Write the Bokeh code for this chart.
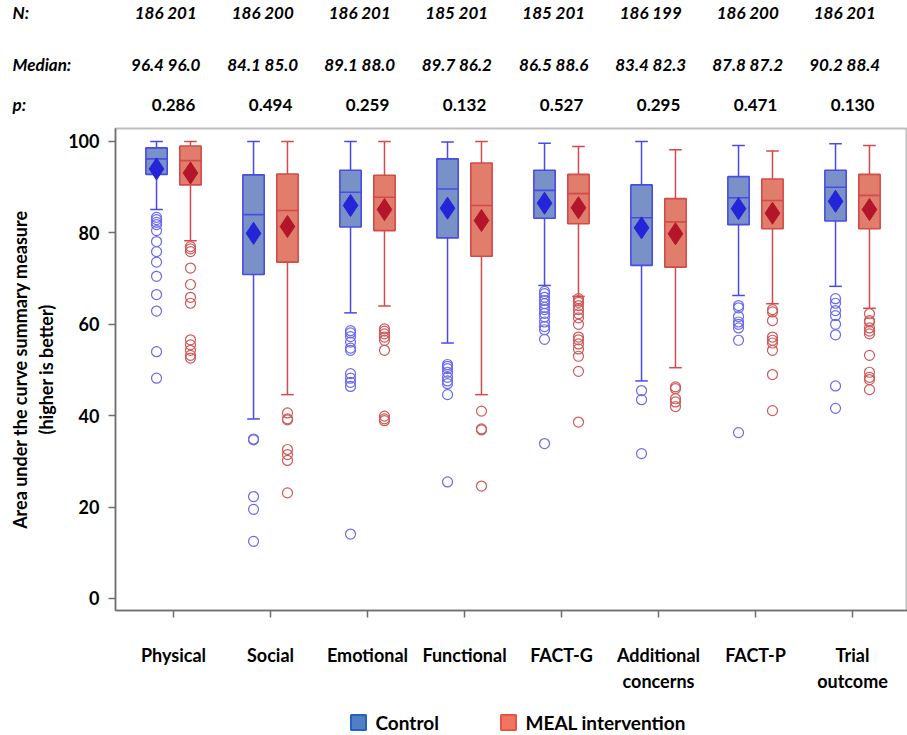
from bokeh.plotting import figure
from bokeh.models import Range1d, FixedTicker, ColumnDataSource
from bokeh.transform import dodge
from bokeh.layouts import column
from bokeh.core.properties import value
from bokeh.embed import file_html
from bokeh.resources import INLINE

# ---------------- data ----------------
categories = ["Physical", "Social", "Emotional", "Functional", "FACT-G",
              "Additional\nconcerns", "FACT-P", "Trial\noutcome"]
n_control = ["186", "186", "186", "185", "185", "186", "186", "186"]
n_meal = ["201", "200", "201", "201", "201", "199", "200", "201"]
median_control_txt = ["96.4", "84.1", "89.1", "89.7", "86.5", "83.4", "87.8", "90.2"]
median_meal_txt = ["96.0", "85.0", "88.0", "86.2", "88.6", "82.3", "87.2", "88.4"]
p_values = ["0.286", "0.494", "0.259", "0.132", "0.527", "0.295", "0.471", "0.130"]
row_labels = ["N:", "Median:", "p:"]
legend_labels = ["Control", "MEAL intervention"]

ctrl_hi = [100.0, 100.0, 100.0, 99.9, 99.6, 100.0, 99.1, 99.5]
ctrl_q3 = [98.6, 92.7, 93.7, 96.2, 93.7, 90.5, 92.3, 93.7]
ctrl_med = [96.2, 84.0, 88.9, 89.6, 89.3, 83.3, 87.7, 90.0]
ctrl_q1 = [92.8, 70.9, 81.3, 78.9, 83.2, 72.9, 81.8, 82.6]
ctrl_lo = [85.1, 39.3, 62.5, 55.9, 68.5, 47.6, 66.3, 68.3]
ctrl_mean = [94.0, 79.9, 86.0, 85.4, 86.5, 81.1, 85.3, 86.9]
ctrl_out = [
    [83.4, 82.9, 82.3, 81.8, 80.5, 78.1, 75.9, 73.6, 70.5, 66.5, 62.9, 54.0, 48.2],
    [34.9, 34.7, 22.3, 19.5, 12.5],
    [58.6, 58.1, 57.3, 56.1, 54.8, 54.3, 49.2, 48.2, 47.3, 46.4, 14.1],
    [51.2, 50.8, 50.3, 49.5, 48.4, 47.6, 47.0, 44.6, 25.5],
    [67.2, 66.7, 65.9, 65.2, 64.5, 63.7, 63.2, 62.4, 61.6, 60.5, 59.5, 58.8, 56.7, 33.9],
    [45.5, 43.5, 31.7],
    [64.1, 63.6, 61.7, 60.5, 60.0, 59.2, 56.5, 36.3],
    [65.6, 64.6, 63.0, 61.9, 60.0, 57.7, 46.5, 41.6],
]

meal_hi = [100.0, 100.0, 100.0, 100.0, 98.9, 98.2, 97.9, 99.1]
meal_q3 = [99.0, 92.9, 92.6, 95.3, 92.8, 87.5, 91.8, 92.8]
meal_med = [95.8, 84.9, 87.8, 86.0, 88.6, 82.4, 87.1, 88.2]
meal_q1 = [90.5, 73.6, 80.5, 74.9, 82.0, 72.5, 80.9, 80.9]
meal_lo = [78.3, 44.6, 64.0, 44.6, 66.1, 50.5, 64.5, 63.5]
meal_mean = [93.1, 81.4, 85.1, 82.7, 85.5, 79.8, 84.3, 85.1]
meal_out = [
    [77.0, 76.5, 75.9, 72.3, 68.7, 65.9, 64.6, 56.6, 55.5, 54.3, 53.2, 52.6],
    [40.6, 39.3, 39.1, 32.6, 31.5, 30.2, 23.1],
    [59.0, 58.5, 57.9, 57.2, 56.5, 54.3, 39.9, 39.3, 38.9],
    [41.0, 37.1, 36.9, 24.6],
    [65.6, 65.2, 64.8, 64.1, 63.2, 62.3, 61.4, 60.0, 57.2, 56.6, 55.7, 54.6, 53.0, 49.7, 38.6],
    [46.3, 45.9, 43.7, 43.0, 42.0],
    [63.2, 62.7, 60.8, 57.2, 56.5, 55.9, 54.3, 49.0, 41.1],
    [62.3, 60.8, 60.5, 59.2, 58.5, 57.9, 53.2, 49.5, 48.4, 47.9, 45.7],
]

# ---------------- styles ----------------
FONT_NAME = "Lato"
FONT = value(FONT_NAME)
C_FILL, C_LINE, C_MEAN, C_OUT = "#7892c8", "#4a4ae6", "#2424d8", "#6a6af0"
M_FILL, M_LINE, M_MEAN, M_OUT = "#e07d6b", "#d44a4a", "#b3152a", "#d05858"
LEG_FILL = ["#4f7fc4", "#f07563"]
LEG_LINE = ["#2463bd", "#e8553f"]
OFF = 0.175
BOX_W = 0.22
CAP = 0.065

W = 907
LEFT_BORDER = 115
X0 = -0.598
PPU = 97.0
X1 = X0 + (W - LEFT_BORDER) / PPU

idx = list(range(len(categories)))

# ---------------- main plot ----------------
p = figure(width=W, height=569, x_range=Range1d(X0, X1), y_range=Range1d(-2.63, 102.84),
           output_backend="svg", toolbar_location=None,
           min_border_left=LEFT_BORDER, min_border_right=0, min_border_top=2,
           min_border_bottom=85)
p.xgrid.visible = False
p.ygrid.visible = False
p.outline_line_color = "#bdbdbd"
p.outline_line_width = 2


def draw_group(off, hi, q3, med, q1, lo, mean, outs, fill, line, meanc, outc):
    src = ColumnDataSource(dict(idx=idx, hi=hi, q3=q3, med=med, q1=q1, lo=lo, mean=mean))
    xc = dodge("idx", off, range=p.x_range)
    xl = dodge("idx", off - BOX_W / 2, range=p.x_range)
    xr = dodge("idx", off + BOX_W / 2, range=p.x_range)
    cl = dodge("idx", off - CAP, range=p.x_range)
    cr = dodge("idx", off + CAP, range=p.x_range)
    p.segment(x0=xc, y0="q3", x1=xc, y1="hi", source=src, line_color=line, line_width=1.5)
    p.segment(x0=xc, y0="q1", x1=xc, y1="lo", source=src, line_color=line, line_width=1.5)
    p.segment(x0=cl, y0="hi", x1=cr, y1="hi", source=src, line_color=line, line_width=1.5)
    p.segment(x0=cl, y0="lo", x1=cr, y1="lo", source=src, line_color=line, line_width=1.5)
    p.vbar(x=xc, width=BOX_W, top="q3", bottom="q1", source=src,
           fill_color=fill, line_color=line, line_width=1.6)
    p.segment(x0=xl, y0="med", x1=xr, y1="med", source=src, line_color=line, line_width=1.6)
    ox, oy = [], []
    for i, vals in enumerate(outs):
        for v in vals:
            ox.append(i)
            oy.append(v)
    osrc = ColumnDataSource(dict(idx=ox, v=oy))
    p.scatter(x=dodge("idx", off, range=p.x_range), y="v", source=osrc, marker="circle",
              size=10, fill_color=None, line_color=outc, line_width=1.2)
    p.scatter(x=xc, y="mean", source=src, marker="diamond", size=22,
              fill_color=meanc, line_color=meanc)


draw_group(-OFF, ctrl_hi, ctrl_q3, ctrl_med, ctrl_q1, ctrl_lo, ctrl_mean, ctrl_out,
           C_FILL, C_LINE, C_MEAN, C_OUT)
draw_group(OFF, meal_hi, meal_q3, meal_med, meal_q1, meal_lo, meal_mean, meal_out,
           M_FILL, M_LINE, M_MEAN, M_OUT)

# axes
p.xaxis.ticker = FixedTicker(ticks=idx)
p.xaxis.major_label_overrides = {i: c for i, c in enumerate(categories)}
p.xaxis.minor_tick_line_color = None
p.xaxis.major_tick_in = 0
p.xaxis.major_tick_out = 7
p.xaxis.major_label_standoff = 26
p.xaxis.major_label_text_font = FONT_NAME
p.xaxis.major_label_text_font_style = "bold"
p.xaxis.major_label_text_font_size = "18px"
p.xaxis.major_label_text_color = "black"
p.xaxis.axis_line_color = "#6e6e6e"
p.xaxis.axis_line_width = 1.5
p.xaxis.major_tick_line_color = "#6e6e6e"
p.xaxis.major_tick_line_width = 1.5

p.yaxis.ticker = FixedTicker(ticks=[0, 20, 40, 60, 80, 100])
p.yaxis.minor_tick_line_color = None
p.yaxis.major_tick_in = 0
p.yaxis.major_tick_out = 7
p.yaxis.major_label_standoff = 9
p.yaxis.major_label_text_font = FONT_NAME
p.yaxis.major_label_text_font_style = "bold"
p.yaxis.major_label_text_font_size = "18px"
p.yaxis.major_label_text_color = "black"
p.yaxis.axis_line_color = "#6e6e6e"
p.yaxis.axis_line_width = 1.5
p.yaxis.major_tick_line_color = "#6e6e6e"
p.yaxis.major_tick_line_width = 1.5
p.yaxis.axis_label = "Area under the curve summary measure\n(higher is better)"
p.yaxis.axis_label_text_font = FONT_NAME
p.yaxis.axis_label_text_font_style = "bold"
p.yaxis.axis_label_text_font_size = "18px"
p.yaxis.axis_label_text_color = "black"
p.yaxis.axis_label_standoff = 8

# ---------------- header ----------------
hx0 = X0 - LEFT_BORDER / PPU
h = figure(width=W, height=126, x_range=Range1d(hx0, X1), y_range=Range1d(0, 126),
           output_backend="svg", toolbar_location=None,
           min_border_left=0, min_border_right=0, min_border_top=0, min_border_bottom=0)
h.frame_align = False
h.axis.visible = False
h.grid.visible = False
h.outline_line_color = None

ROW_Y = [114, 62, 22]
lab_x = hx0 + 12 / PPU
h.text(x=[lab_x] * 3, y=ROW_Y, text=row_labels,
       text_font=FONT, text_font_style="bold italic", text_font_size="17px",
       text_baseline="middle", text_align="left", text_color="black")

hsrc = ColumnDataSource(dict(
    idx=idx,
    n=[a + " " + b for a, b in zip(n_control, n_meal)],
    med=[a + " " + b for a, b in zip(median_control_txt, median_meal_txt)],
    pv=p_values,
    yn=[ROW_Y[0]] * len(idx), ym=[ROW_Y[1]] * len(idx), yp=[ROW_Y[2]] * len(idx)))
hx = dodge("idx", -0.08, range=h.x_range)
h.text(x=hx, y="yn", text="n", source=hsrc, text_font=FONT, text_font_style="bold italic",
       text_font_size="17px", text_baseline="middle", text_align="center", text_color="black")
h.text(x=hx, y="ym", text="med", source=hsrc, text_font=FONT, text_font_style="bold italic",
       text_font_size="17px", text_baseline="middle", text_align="center", text_color="black")
h.text(x="idx", y="yp", text="pv", source=hsrc, text_font=FONT, text_font_style="bold",
       text_font_size="17px", text_baseline="middle", text_align="center", text_color="black")

# ---------------- legend strip ----------------
lg = figure(width=W, height=40, x_range=Range1d(0, W), y_range=Range1d(0, 40),
            output_backend="svg", toolbar_location=None,
            min_border_left=0, min_border_right=0, min_border_top=0, min_border_bottom=0)
lg.frame_align = False
lg.axis.visible = False
lg.grid.visible = False
lg.outline_line_color = None
LEG_X = [358, 508]
LEG_Y = 13
lsrc = ColumnDataSource(dict(x=LEG_X, y=[LEG_Y] * 2, tx=[x + 17 for x in LEG_X],
                             lab=legend_labels, fc=LEG_FILL, lc=LEG_LINE))
lg.rect(x="x", y="y", width=15, height=15, width_units="screen", height_units="screen",
        source=lsrc, fill_color="fc", line_color="lc", line_width=2)
lg.text(x="tx", y="y", text="lab", source=lsrc, text_font=FONT, text_font_style="bold",
        text_font_size="19px", text_baseline="middle", text_align="left", text_color="black")

layout = column(h, p, lg, spacing=0)
open("out.html", "w").write(file_html(layout, INLINE))
